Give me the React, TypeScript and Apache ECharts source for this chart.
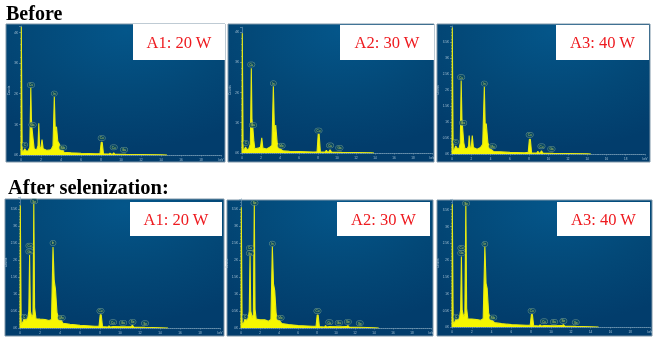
import React, { useEffect, useRef } from "react";
import * as echarts from "echarts";

type Pt = [number, number];

const xTicks = ["0", "2", "4", "6", "8", "10", "12", "14", "16", "18", "keV"];

const spectrumA1Before: Pt[] = [[0,0],[0.03,4.18],[0.08,4.18],[0.12,0.1],[0.25,0.13],[0.38,0.2],[0.5,0.14],[0.7,0.13],[0.88,0.25],[0.98,2.2],[1.04,1.2],[1.1,0.87],[1.2,0.55],[1.32,0.2],[1.55,0.16],[1.7,0.3],[1.78,1.03],[1.86,0.25],[1.98,0.22],[2.1,0.5],[2.22,0.2],[2.6,0.15],[2.95,0.17],[3.05,0.2],[3.2,0.3],[3.33,1.9],[3.43,0.8],[3.55,0.92],[3.68,0.45],[3.85,0.35],[4.0,0.18],[4.12,0.2],[4.3,0.09],[5,0.07],[6,0.055],[7.5,0.04],[7.9,0.05],[8.02,0.41],[8.12,0.41],[8.25,0.04],[8.8,0.03],[8.9,0.06],[9.02,0.03],[9.2,0.03],[9.27,0.07],[9.38,0.03],[10.5,0.02],[12,0.015],[14,0.006],[14.6,0]];
const spectrumA2Before: Pt[] = [[0,0],[0.03,3.95],[0.08,3.95],[0.12,0.08],[0.25,0.12],[0.38,0.2],[0.5,0.12],[0.7,0.13],[0.88,0.3],[0.98,2.8],[1.05,1.1],[1.15,0.8],[1.25,0.4],[1.35,0.14],[1.7,0.16],[1.95,0.2],[2.08,0.5],[2.2,0.16],[2.6,0.13],[2.95,0.2],[3.15,0.25],[3.3,2.2],[3.42,0.7],[3.55,0.92],[3.7,0.35],[3.9,0.14],[4.1,0.12],[4.3,0.07],[5,0.06],[6,0.05],[7.5,0.035],[7.9,0.04],[8.02,0.62],[8.12,0.62],[8.25,0.03],[8.75,0.03],[8.88,0.09],[9.0,0.03],[9.15,0.04],[9.27,0.11],[9.42,0.03],[10.5,0.02],[12,0.015],[13.6,0.006],[13.9,0]];
const spectrumA3Before: Pt[] = [[0,0],[0.03,3.95],[0.08,3.95],[0.12,0.1],[0.25,0.14],[0.38,0.25],[0.55,0.18],[0.72,0.16],[0.86,0.35],[0.95,2.3],[1.03,1.1],[1.12,0.74],[1.22,0.35],[1.35,0.16],[1.6,0.18],[1.72,0.25],[1.78,0.58],[1.88,0.2],[2.0,0.22],[2.1,0.58],[2.22,0.2],[2.6,0.15],[2.95,0.2],[3.18,0.3],[3.35,2.1],[3.45,0.8],[3.55,0.95],[3.72,0.35],[3.95,0.15],[4.1,0.13],[4.3,0.08],[5,0.07],[6,0.05],[7.5,0.04],[7.9,0.05],[8.02,0.46],[8.12,0.46],[8.25,0.03],[8.78,0.03],[8.9,0.08],[9.02,0.03],[9.15,0.04],[9.27,0.1],[9.42,0.03],[10.5,0.02],[12,0.015],[14,0.006],[14.4,0]];
const spectrumA1After: Pt[] = [[0,0],[0.03,3.6],[0.08,3.6],[0.12,0.1],[0.3,0.18],[0.42,0.3],[0.6,0.22],[0.78,0.3],[0.88,0.5],[0.96,2.15],[1.04,0.5],[1.18,0.32],[1.3,0.4],[1.38,3.7],[1.46,0.6],[1.6,0.27],[2,0.26],[2.5,0.25],[2.9,0.22],[3.15,0.25],[3.3,2.38],[3.42,1.4],[3.55,1.13],[3.7,0.45],[3.85,0.3],[4.05,0.26],[4.3,0.14],[5,0.11],[6,0.08],[7.5,0.05],[7.9,0.05],[8.02,0.39],[8.12,0.39],[8.25,0.04],[8.8,0.03],[8.9,0.06],[9.02,0.03],[9.3,0.04],[10.3,0.035],[11.1,0.04],[11.25,0.08],[11.38,0.03],[12.5,0.02],[14,0.008],[14.8,0]];
const spectrumA2After: Pt[] = [[0,0],[0.03,3.55],[0.08,3.55],[0.12,0.1],[0.3,0.16],[0.42,0.28],[0.6,0.22],[0.76,0.3],[0.87,0.5],[0.95,2.15],[1.03,0.5],[1.18,0.3],[1.3,0.4],[1.4,3.7],[1.48,0.55],[1.6,0.26],[2,0.24],[2.5,0.24],[2.9,0.2],[3.15,0.25],[3.3,2.4],[3.42,1.3],[3.55,1.1],[3.7,0.42],[3.85,0.26],[4.05,0.22],[4.3,0.13],[5,0.1],[6,0.07],[7.5,0.05],[7.9,0.05],[8.02,0.38],[8.12,0.38],[8.25,0.04],[8.8,0.03],[8.9,0.07],[9.02,0.03],[9.3,0.04],[10.3,0.035],[11.1,0.04],[11.25,0.07],[11.38,0.03],[12.5,0.02],[14,0.008],[14.5,0]];
const spectrumA3After: Pt[] = [[0,0],[0.03,3.65],[0.08,3.65],[0.12,0.1],[0.3,0.16],[0.42,0.28],[0.6,0.2],[0.76,0.28],[0.87,0.5],[0.95,2.1],[1.03,0.5],[1.18,0.3],[1.3,0.4],[1.4,3.72],[1.48,0.55],[1.6,0.24],[2,0.24],[2.5,0.22],[2.9,0.2],[3.15,0.25],[3.32,2.4],[3.44,1.3],[3.55,1.15],[3.7,0.42],[3.85,0.26],[4.05,0.2],[4.3,0.13],[5,0.1],[6,0.07],[7.5,0.05],[7.9,0.05],[8.02,0.37],[8.12,0.37],[8.25,0.04],[8.8,0.03],[8.9,0.06],[9.02,0.03],[9.3,0.04],[10.3,0.035],[11.1,0.04],[11.25,0.07],[11.38,0.03],[12.5,0.02],[14,0.008],[14.8,0]];

// peak labels: [keV, counts at which the label is centred, element]
const beforeLabelsA1: [number, number, string][] = [[0.38,0.33,"C"],[1.0,2.28,"Cu"],[1.15,0.98,"Ga"],[3.33,2.0,"In"],[4.2,0.24,"Mo"],[8.07,0.55,"Cu"],[9.27,0.25,"Cu"],[10.3,0.17,"Ga"]];
const beforeLabelsA2: [number, number, string][] = [[0.4,0.33,"C"],[0.98,2.92,"Cu"],[1.15,0.92,"Ga"],[3.3,2.3,"In"],[4.15,0.24,"Mo"],[8.05,0.74,"Cu"],[9.27,0.25,"Cu"],[10.25,0.17,"Ga"]];
const beforeLabelsA3: [number, number, string][] = [[0.38,0.38,"C"],[0.95,2.4,"Cu"],[1.15,0.97,"Ga"],[3.35,2.2,"In"],[4.2,0.24,"Mo"],[8.05,0.6,"Cu"],[9.27,0.24,"Cu"],[10.3,0.16,"Ga"]];
const afterLabelsA1: [number, number, string][] = [[0.42,0.33,"C"],[0.95,2.42,"Cu"],[0.95,2.25,"Ga"],[1.42,3.73,"Se"],[3.3,2.5,"In"],[4.15,0.3,"Mo"],[8.05,0.5,"Cu"],[9.3,0.17,"Cu"],[10.3,0.15,"Ga"],[11.25,0.18,"Se"],[12.5,0.14,"Se"]];
const afterLabelsA2: [number, number, string][] = [[0.42,0.33,"C"],[0.95,2.35,"Cu"],[0.95,2.2,"Ga"],[1.42,3.68,"Se"],[3.3,2.48,"In"],[4.15,0.3,"Mo"],[8.05,0.5,"Cu"],[9.3,0.17,"Cu"],[10.3,0.15,"Ga"],[11.25,0.18,"Se"],[12.5,0.14,"Se"]];
const afterLabelsA3: [number, number, string][] = [[0.42,0.3,"C"],[0.95,2.35,"Cu"],[0.95,2.2,"Ga"],[1.42,3.68,"Se"],[3.32,2.47,"In"],[4.15,0.28,"Mo"],[8.05,0.48,"Cu"],[9.3,0.17,"Cu"],[10.3,0.15,"Ga"],[11.25,0.18,"Se"],[12.5,0.14,"Se"]];

const panelTitles = ["A1: 20 W", "A2: 30 W", "A3: 40 W", "A1: 20 W", "A2: 30 W", "A3: 40 W"];
const spectra = [spectrumA1Before, spectrumA2Before, spectrumA3Before, spectrumA1After, spectrumA2After, spectrumA3After];
const peakLabels = [beforeLabelsA1, beforeLabelsA2, beforeLabelsA3, afterLabelsA1, afterLabelsA2, afterLabelsA3];
const yIntervals = [1, 1, 0.5, 0.5, 0.5, 0.5];

// layout, in pixels: frame, plot and white title box of each panel
const layouts = [
  { fx: 6, fy: 24, fw: 219, fh: 138, left: 21, w: 200, base: 155, perUnit: 30.7, max: 4.2, bx: 133, by: 24, bw: 92, bh: 36 },
  { fx: 228, fy: 24, fw: 206, fh: 138, left: 242, w: 190, base: 153, perUnit: 30.3, max: 4.15, bx: 340, by: 25, bw: 94, bh: 35 },
  { fx: 437, fy: 24, fw: 213, fh: 138, left: 452, w: 193, base: 154, perUnit: 32, max: 4.0, bx: 556, by: 25, bw: 93, bh: 35 },
  { fx: 5, fy: 199, fw: 219, fh: 137, left: 20, w: 200, base: 328, perUnit: 34, max: 3.85, bx: 130, by: 202, bw: 92, bh: 34 },
  { fx: 227, fy: 200, fw: 206, fh: 136, left: 241, w: 190, base: 328, perUnit: 34, max: 3.8, bx: 337, by: 202, bw: 93, bh: 34 },
  { fx: 437, fy: 200, fw: 215, fh: 136, left: 452, w: 198, base: 327, perUnit: 33.6, max: 3.8, bx: 557, by: 202, bw: 93, bh: 34 },
];

const AXIS = "#7fa3bb";

export default function App() {
  const ref = useRef<HTMLDivElement>(null);
  useEffect(() => {
    if (!ref.current) return;
    const chart = echarts.init(ref.current, undefined, { renderer: "svg" });
    const graphic: any[] = [
      { type: "text", x: 6, y: 3, z: 20, style: { text: "Before", font: "bold 20px 'Liberation Serif'", fill: "#000" } },
      { type: "text", x: 8, y: 176, z: 20, style: { text: "After selenization:", font: "bold 20.5px 'Liberation Serif'", fill: "#000" } },
    ];
    layouts.forEach((l, i) => {
      graphic.push({
        type: "rect", z: 0,
        shape: { x: l.fx, y: l.fy, width: l.fw, height: l.fh },
        style: {
          fill: new echarts.graphic.RadialGradient(0.55, 0.05, 0.85, [
            { offset: 0, color: "#04568a" },
            { offset: 0.55, color: "#034877" },
            { offset: 1, color: "#023d6c" },
          ]),
          stroke: "#7f96a8", lineWidth: 1,
        },
      });
      graphic.push({ type: "rect", z: 20, shape: { x: l.bx, y: l.by, width: l.bw, height: l.bh }, style: { fill: "#fff" } });
      graphic.push({
        type: "text", z: 21, x: l.bx + l.bw / 2, y: l.by + l.bh / 2,
        style: { text: panelTitles[i], font: "16.5px 'Liberation Serif'", fill: "#ee1a1f", align: "center", verticalAlign: "middle" },
      });
    });
    const small = { fontSize: 3, color: "#a9c4d6", fontFamily: "Liberation Sans" };
    chart.setOption({
      animation: false,
      backgroundColor: "#fff",
      graphic,
      grid: layouts.map((l) => ({
        left: l.left, width: l.w, top: l.base - l.max * l.perUnit, height: l.max * l.perUnit, containLabel: false,
      })),
      xAxis: layouts.map((_, i) => ({
        type: "value", gridIndex: i, min: 0, max: 20, interval: 2, minorTick: { show: true, splitNumber: 10, length: 1, lineStyle: { color: AXIS, width: 0.5 } },
        splitLine: { show: false },
        axisLine: { show: true, lineStyle: { color: AXIS, width: 0.6, type: "dotted" } },
        axisTick: { length: 1.5, lineStyle: { color: AXIS, width: 0.6 } },
        axisLabel: { ...small, margin: 3, formatter: (v: number) => xTicks[v / 2] },
      })),
      yAxis: layouts.map((_, i) => ({
        type: "value", gridIndex: i, min: 0, max: layouts[i].max, interval: yIntervals[i], minorTick: { show: true, splitNumber: 5, length: 1, lineStyle: { color: AXIS, width: 0.5 } },
        splitLine: { show: false },
        name: "Counts", nameLocation: "middle", nameGap: 10, nameTextStyle: small,
        axisLine: { show: true, lineStyle: { color: AXIS, width: 0.6 } },
        axisTick: { length: 2, lineStyle: { color: AXIS, width: 0.6 } },
        axisLabel: { ...small, margin: 3, showMaxLabel: false, formatter: (v: number) => `${v}K` },
      })),
      series: [
        ...spectra.map((data, i) => ({
          type: "line", xAxisIndex: i, yAxisIndex: i, data, symbol: "none", z: 3,
          lineStyle: { color: "#e8ea10", width: 1.1 },
          areaStyle: { color: "#f7f700", opacity: 1 },
        })),
        ...peakLabels.map((list, i) => ({
          type: "scatter", xAxisIndex: i, yAxisIndex: i, symbolSize: 0, z: 5,
          data: list.map(([x, y, name]) => ({ value: [x, y], name })),
          label: {
            show: true, position: "inside", formatter: "{b}", fontSize: 3, color: "#e8f060", fontFamily: "Liberation Sans",
            borderColor: "#7fa596", borderWidth: 0.5, borderRadius: 2, padding: [0.8, 1.5],
            backgroundColor: "#0a4a60",
          },
        })),
      ],
    });
    return () => chart.dispose();
  }, []);
  return (
    <div
      ref={ref}
      style={{ position: "fixed", left: 0, top: 0, width: 658, height: 342, filter: "blur(0.35px)" }}
    />
  );
}
